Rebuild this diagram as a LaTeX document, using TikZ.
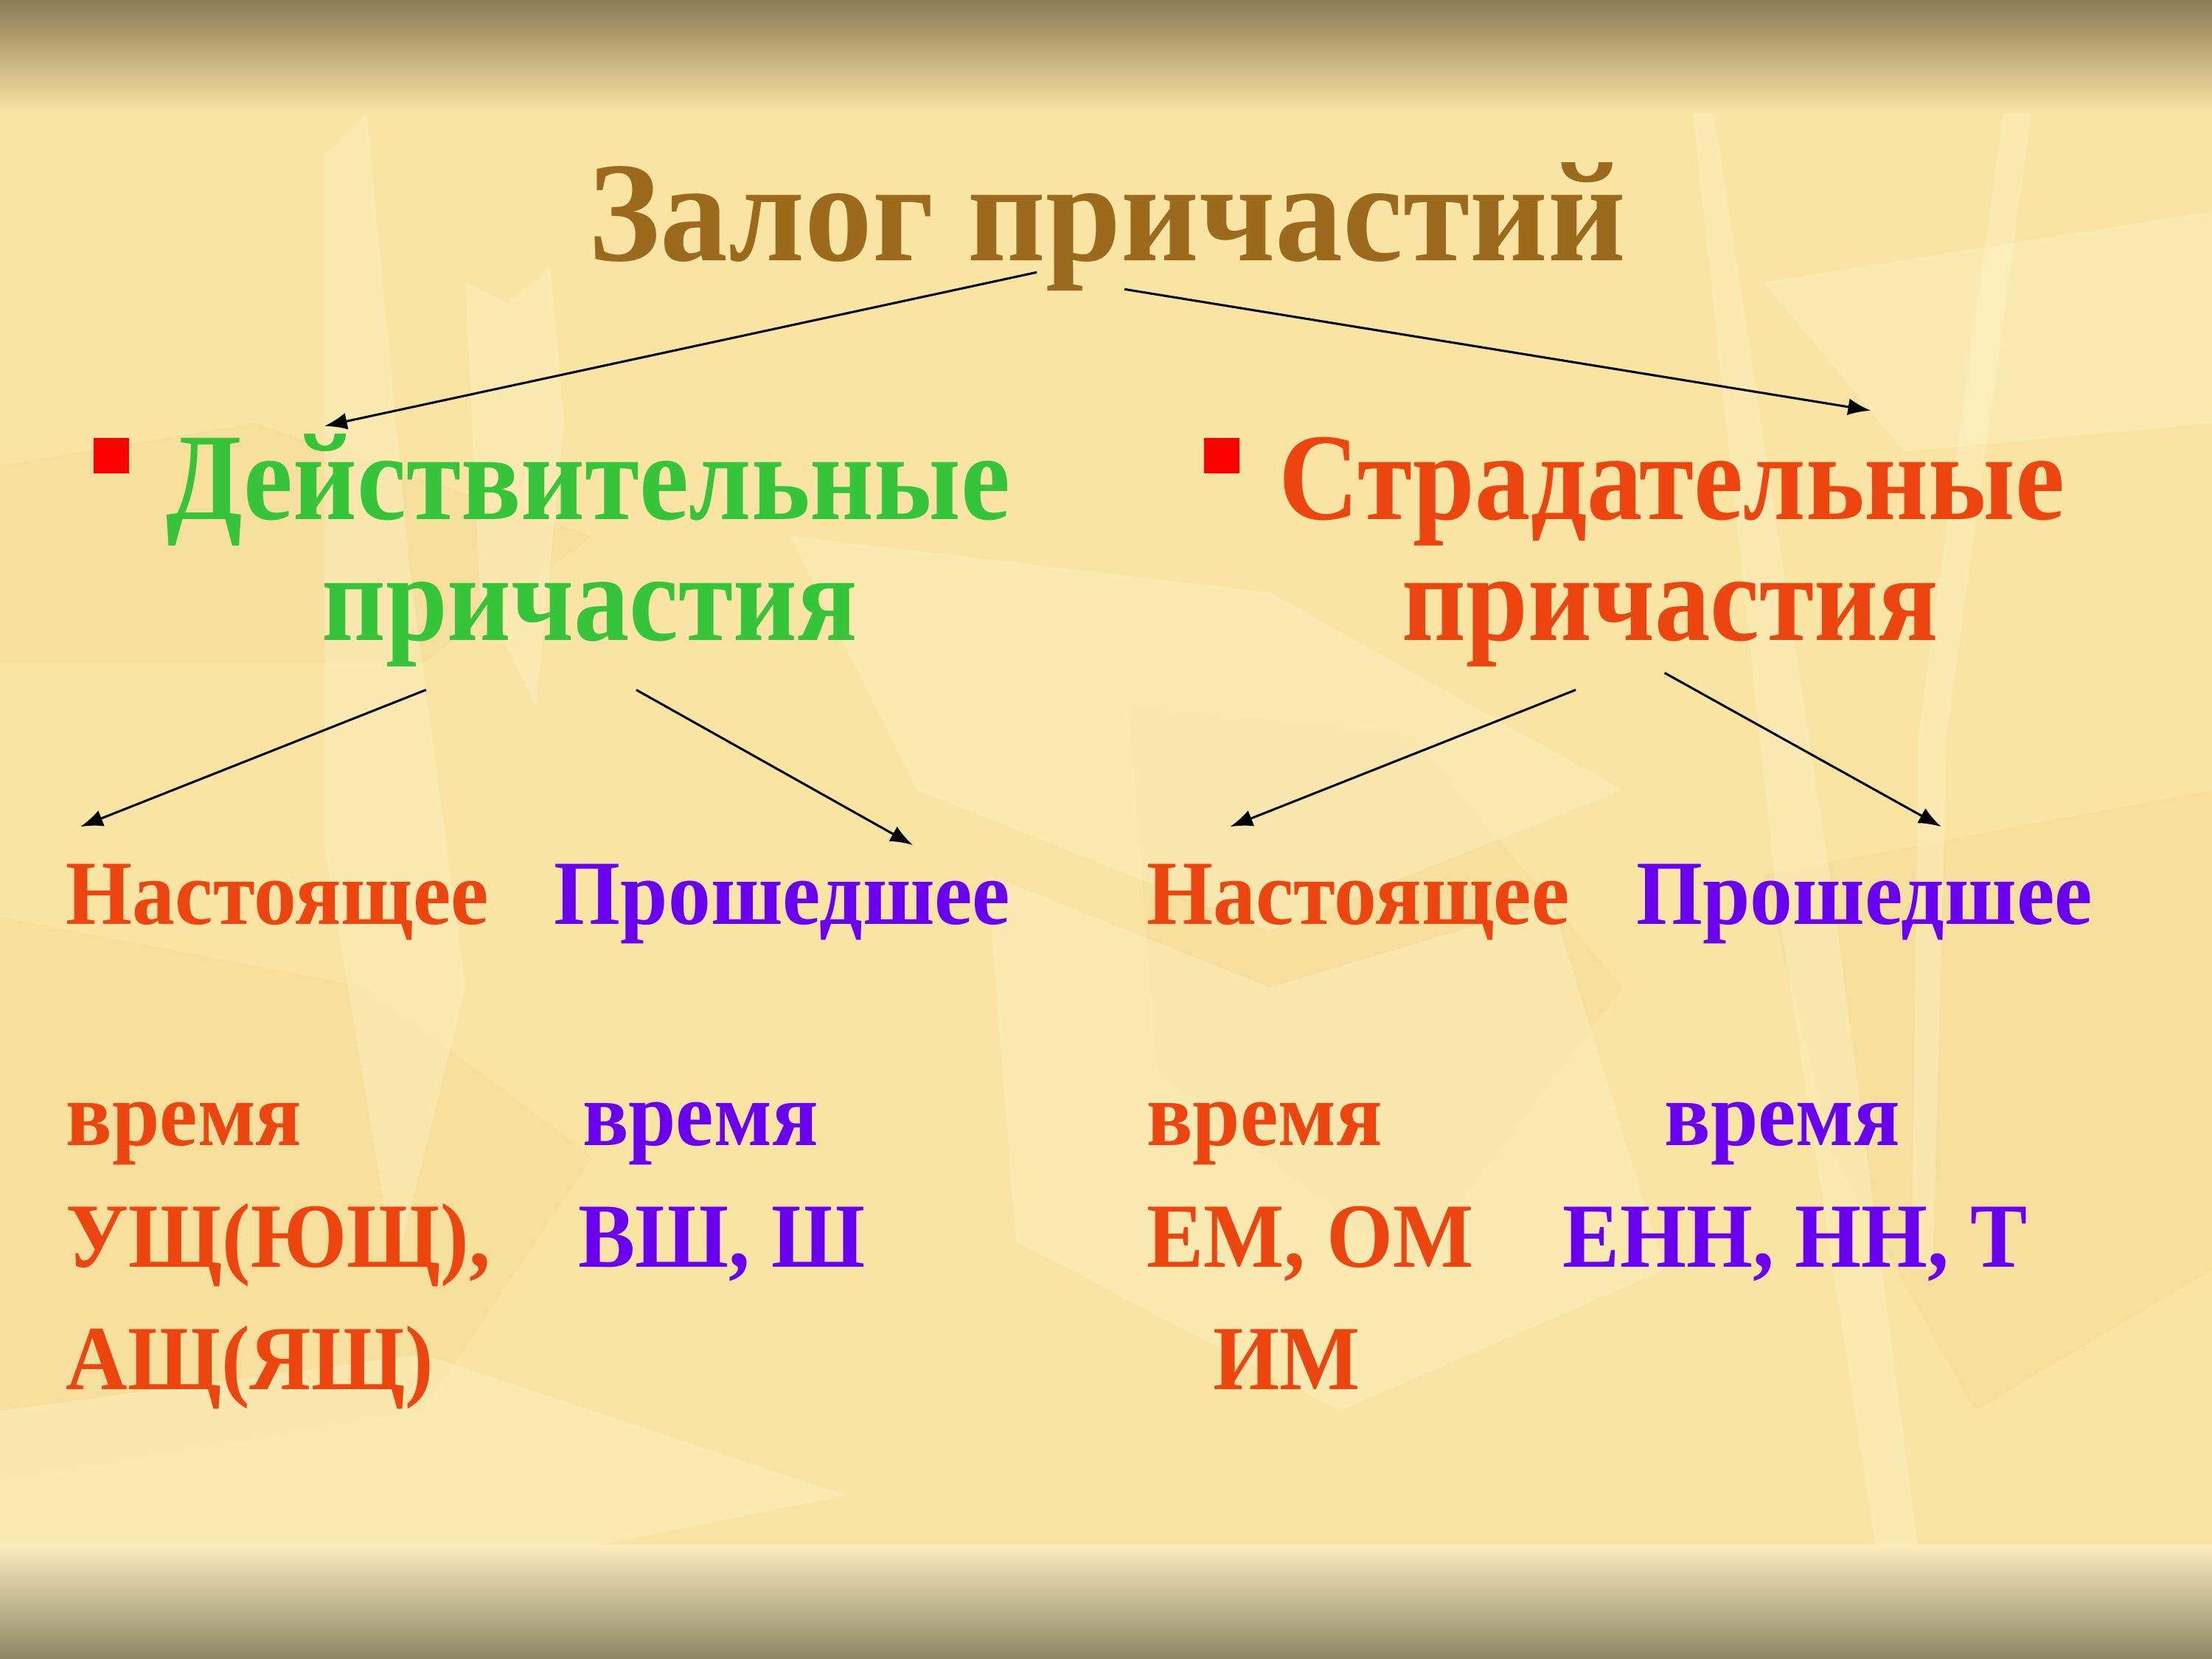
\documentclass[tikz,border=0pt]{standalone}
\usepackage{fontspec}
\setmainfont{Liberation Serif}
\newfontfamily\titlefont[FakeStretch=0.95]{Liberation Serif}
\newfontfamily\headfont[FakeStretch=0.895]{Liberation Serif}
\newfontfamily\labfont[FakeStretch=0.93]{Liberation Serif}
\usetikzlibrary{arrows.meta}
\definecolor{titlec}{HTML}{9B6A1C}
\definecolor{actc}{HTML}{35C43A}
\definecolor{redc}{HTML}{EC4510}
\definecolor{purc}{HTML}{6A00F0}
\definecolor{bulc}{HTML}{FF0000}
\definecolor{bgc}{HTML}{F9E4A4}
\definecolor{bgl}{HTML}{FDF3C4}
\definecolor{bgd}{HTML}{F2D18C}
\definecolor{topc}{HTML}{8C7A55}
\definecolor{botc}{HTML}{8A8666}
\begin{document}
\begin{tikzpicture}[x=0.5pt,y=-0.5pt,
  lab/.style={inner sep=0pt, outer sep=0pt, anchor=base west, font=\labfont\bfseries\fontsize{32.5}{39}\selectfont},
  head/.style={inner sep=0pt, outer sep=0pt, anchor=base, font=\headfont\bfseries\fontsize{44}{52}\selectfont},
  bul/.style={fill=bulc, inner sep=0pt, minimum size=12.5pt},
  arr/.style={-{Latex[length=8pt,width=6pt]}, line width=0.8pt, black},
  leaf/.style={fill=bgl, opacity=0.45},
  leafd/.style={fill=bgd, opacity=0.3}]
\useasboundingbox (0,0) rectangle (1568,1176);
% background
\fill[bgc] (0,0) rectangle (1568,1176);
\fill[leafd] (0,330) -- (180,300) -- (420,380) -- (300,470) -- (0,470) -- cycle;
\fill[leafd] (0,650) -- (260,700) -- (420,820) -- (300,1000) -- (0,1050) -- cycle;
\fill[leafd] (800,500) -- (1000,520) -- (1150,700) -- (1000,900) -- (820,760) -- cycle;
\fill[leafd] (1250,620) -- (1568,560) -- (1568,900) -- (1400,1000) -- (1300,820) -- cycle;
\fill[leaf] (230,110) -- (260,80) -- (290,400) -- (330,700) -- (280,900) -- (230,600) -- cycle;
\fill[leaf] (330,200) -- (360,215) -- (390,190) -- (400,300) -- (380,500) -- (340,420) -- cycle;
\fill[leaf] (560,380) -- (900,420) -- (1150,560) -- (900,660) -- (650,560) -- cycle;
\fill[leaf] (1200,80) -- (1215,80) -- (1300,640) -- (1360,1100) -- (1330,1100) -- (1260,640) -- cycle;
\fill[leaf] (1420,80) -- (1440,80) -- (1380,520) -- (1370,900) -- (1355,900) -- (1360,520) -- cycle;
\fill[leaf] (700,620) -- (900,700) -- (1100,640) -- (1180,900) -- (950,1000) -- (720,880) -- cycle;
\fill[leaf] (0,1000) -- (300,960) -- (600,1060) -- (400,1100) -- (0,1100) -- cycle;
\fill[leaf] (1250,200) -- (1568,150) -- (1568,300) -- (1350,320) -- cycle;
\shade[top color=topc, bottom color=bgc] (0,0) rectangle (1568,80);
\shade[top color=bgc!70!white, bottom color=botc] (0,1095) rectangle (1568,1176);
% title
\node[inner sep=0pt, outer sep=0pt, anchor=base, text=titlec, font=\titlefont\bfseries\fontsize{50.5}{60}\selectfont] (title) at (785,185) {Залог причастий};
% heads
\node[bul] (b1) at (79,323) {};
\node[head, text=actc] (act1) at (417,368) {Действительные};
\node[head, text=actc] (act2) at (418,454) {причастия};
\node[bul] (b2) at (866,323) {};
\node[head, text=redc] (pas1) at (1185,368) {Страдательные};
\node[head, text=redc] (pas2) at (1184,454) {причастия};
% tenses
\node[lab, text=redc] (n1) at (47,655) {Настоящее};
\node[lab, text=purc] (p1) at (393,655) {Прошедшее};
\node[lab, text=redc] (n2) at (813,655) {Настоящее};
\node[lab, text=purc] (p2) at (1160,655) {Прошедшее};
\node[lab, text=redc] (v1) at (47,812) {время};
\node[lab, text=purc] (v2) at (413,812) {время};
\node[lab, text=redc] (v3) at (813,812) {время};
\node[lab, text=purc] (v4) at (1180,812) {время};
\node[lab, text=redc] (s1) at (47,898) {УЩ(ЮЩ),};
\node[lab, text=purc] (s2) at (410,898) {ВШ, Ш};
\node[lab, text=redc] (s3) at (813,898) {ЕМ, ОМ};
\node[lab, text=purc] (s4) at (1108,898) {ЕНН, НН, Т};
\node[lab, text=redc] (s5) at (47,985) {АЩ(ЯЩ)};
\node[lab, text=redc] (s6) at (860,985) {ИМ};
% connector ends
\coordinate (t1) at (735,193);
\coordinate (t2) at (797,205);
\coordinate (e1) at (230,302);
\coordinate (e2) at (1326,291);
\coordinate (a1) at (302,489);
\coordinate (a2) at (451,489);
\coordinate (an) at (57,586);
\coordinate (ap) at (647,599);
\coordinate (c1) at (1117,489);
\coordinate (c2) at (1180,477);
\coordinate (cn) at (872,586);
\coordinate (cp) at (1376,586);
\draw[arr] (t1) -- (e1);
\draw[arr] (t2) -- (e2);
\draw[arr] (a1) -- (an);
\draw[arr] (a2) -- (ap);
\draw[arr] (c1) -- (cn);
\draw[arr] (c2) -- (cp);
\end{tikzpicture}
\end{document}
